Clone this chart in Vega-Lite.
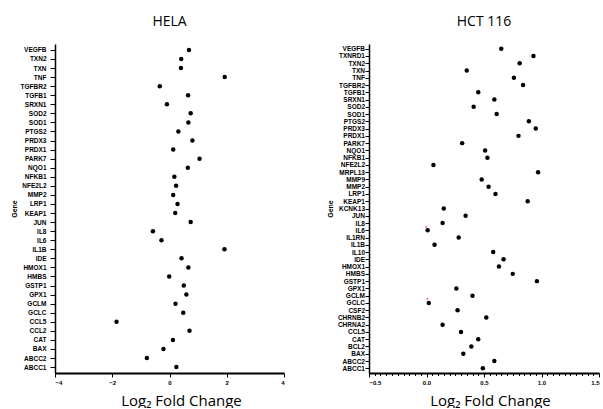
{
  "$schema": "https://vega.github.io/schema/vega-lite/v6.json",
  "padding": {"left": 10, "top": 15, "right": 0, "bottom": 0},
  "bounds": "flush",
  "spacing": 85,
  "background": "white",
  "config": {
    "view": {"stroke": null},
    "font": "Liberation Sans",
    "axis": {
      "domainColor": "black",
      "domainWidth": 1.5,
      "tickColor": "black",
      "tickWidth": 1,
      "labelColor": "black",
      "labelFont": "Liberation Sans",
      "labelFontWeight": "bold",
      "labelFontSize": 6.5,
      "grid": false,
      "titleColor": "black"
    },
    "axisX": {"domain": true, "domainColor": "black", "domainWidth": 2},
    "title": {"font": "Open Sans", "fontSize": 14, "fontWeight": "normal", "color": "black", "anchor": "middle", "offset": 15}
  },
  "datasets": {
    "hela": [
      {"gene": "VEGFB", "lfc": 0.68},
      {"gene": "TXN2", "lfc": 0.41},
      {"gene": "TXN", "lfc": 0.40},
      {"gene": "TNF", "lfc": 1.93},
      {"gene": "TGFBR2", "lfc": -0.34},
      {"gene": "TGFB1", "lfc": 0.65},
      {"gene": "SRXN1", "lfc": -0.09},
      {"gene": "SOD2", "lfc": 0.74},
      {"gene": "SOD1", "lfc": 0.66},
      {"gene": "PTGS2", "lfc": 0.31},
      {"gene": "PRDX3", "lfc": 0.80},
      {"gene": "PRDX1", "lfc": 0.13},
      {"gene": "PARK7", "lfc": 1.05},
      {"gene": "NQO1", "lfc": 0.64},
      {"gene": "NFKB1", "lfc": 0.17},
      {"gene": "NFE2L2", "lfc": 0.23},
      {"gene": "MMP2", "lfc": 0.13},
      {"gene": "LRP1", "lfc": 0.28},
      {"gene": "KEAP1", "lfc": 0.20},
      {"gene": "JUN", "lfc": 0.74},
      {"gene": "IL8", "lfc": -0.58},
      {"gene": "IL6", "lfc": -0.28},
      {"gene": "IL1B", "lfc": 1.92},
      {"gene": "IDE", "lfc": 0.42},
      {"gene": "HMOX1", "lfc": 0.66},
      {"gene": "HMBS", "lfc": -0.01},
      {"gene": "GSTP1", "lfc": 0.50},
      {"gene": "GPX1", "lfc": 0.59},
      {"gene": "GCLM", "lfc": 0.21},
      {"gene": "GCLC", "lfc": 0.48},
      {"gene": "CCL5", "lfc": -1.85},
      {"gene": "CCL2", "lfc": 0.70},
      {"gene": "CAT", "lfc": 0.12},
      {"gene": "BAX", "lfc": -0.21},
      {"gene": "ABCC2", "lfc": -0.79},
      {"gene": "ABCC1", "lfc": 0.24}
    ],
    "hct": [
      {"gene": "VEGFB", "lfc": 0.65, "sig": false},
      {"gene": "TXNRD1", "lfc": 0.93, "sig": false},
      {"gene": "TXN2", "lfc": 0.81, "sig": false},
      {"gene": "TXN", "lfc": 0.35, "sig": false},
      {"gene": "TNF", "lfc": 0.76, "sig": false},
      {"gene": "TGFBR2", "lfc": 0.84, "sig": false},
      {"gene": "TGFB1", "lfc": 0.45, "sig": false},
      {"gene": "SRXN1", "lfc": 0.59, "sig": false},
      {"gene": "SOD2", "lfc": 0.41, "sig": false},
      {"gene": "SOD1", "lfc": 0.61, "sig": false},
      {"gene": "PTGS2", "lfc": 0.89, "sig": false},
      {"gene": "PRDX3", "lfc": 0.95, "sig": false},
      {"gene": "PRDX1", "lfc": 0.80, "sig": false},
      {"gene": "PARK7", "lfc": 0.31, "sig": false},
      {"gene": "NQO1", "lfc": 0.51, "sig": false},
      {"gene": "NFKB1", "lfc": 0.53, "sig": false},
      {"gene": "NFE2L2", "lfc": 0.06, "sig": false},
      {"gene": "MRPL13", "lfc": 0.97, "sig": false},
      {"gene": "MMP9", "lfc": 0.48, "sig": false},
      {"gene": "MMP2", "lfc": 0.54, "sig": false},
      {"gene": "LRP1", "lfc": 0.60, "sig": false},
      {"gene": "KEAP1", "lfc": 0.88, "sig": false},
      {"gene": "KCNK13", "lfc": 0.15, "sig": false},
      {"gene": "JUN", "lfc": 0.34, "sig": false},
      {"gene": "IL8", "lfc": 0.14, "sig": false},
      {"gene": "IL6", "lfc": 0.01, "sig": true},
      {"gene": "IL1RN", "lfc": 0.28, "sig": false},
      {"gene": "IL1B", "lfc": 0.07, "sig": false},
      {"gene": "IL10", "lfc": 0.58, "sig": false},
      {"gene": "IDE", "lfc": 0.67, "sig": false},
      {"gene": "HMOX1", "lfc": 0.63, "sig": false},
      {"gene": "HMBS", "lfc": 0.75, "sig": false},
      {"gene": "GSTP1", "lfc": 0.96, "sig": false},
      {"gene": "GPX1", "lfc": 0.26, "sig": false},
      {"gene": "GCLM", "lfc": 0.40, "sig": false},
      {"gene": "GCLC", "lfc": 0.02, "sig": true},
      {"gene": "CSF2", "lfc": 0.27, "sig": false},
      {"gene": "CHRNB2", "lfc": 0.52, "sig": false},
      {"gene": "CHRNA2", "lfc": 0.14, "sig": false},
      {"gene": "CCL5", "lfc": 0.30, "sig": false},
      {"gene": "CAT", "lfc": 0.45, "sig": false},
      {"gene": "BCL2", "lfc": 0.39, "sig": false},
      {"gene": "BAX", "lfc": 0.32, "sig": false},
      {"gene": "ABCC2", "lfc": 0.59, "sig": false},
      {"gene": "ABCC1", "lfc": 0.49, "sig": false}
    ]
  },
  "hconcat": [
    {
      "width": 229,
      "height": 329,
      "title": {"text": "HELA"},
      "encoding": {
        "x": {
          "field": "lfc", "type": "quantitative",
          "scale": {"domain": [-4, 4], "nice": false, "zero": false},
          "axis": {
            "values": [-4, -2, 0, 2, 4],
            "format": "d",
            "tickSize": 4,
            "labelPadding": 2,
            "labelFontSize": 6,
            "title": "Log₂ Fold Change",
            "titleFont": "Open Sans",
            "titleFontSize": 15,
            "titleFontWeight": "normal",
            "titlePadding": 8,
            "titleX": 126
          }
        }
      },
      "layer": [
        {
          "data": {"values": [{"ref": 0}]},
          "mark": {"type": "rule", "strokeDash": [1, 1], "color": "#222", "strokeWidth": 0.9},
          "encoding": {"x": {"datum": 0}, "y": {"value": 0}, "y2": {"value": 329}}
        },
        {
          "data": {"name": "hela"},
          "mark": {"type": "point", "filled": true, "size": 20, "color": "black", "opacity": 1},
          "encoding": {
            "y": {
              "field": "gene", "type": "nominal", "sort": null,
              "scale": {"type": "point", "padding": 0.65},
              "axis": {
                "title": "Gene",
                "titleFontSize": 7,
                "titleFontWeight": "bold",
                "titlePadding": 3,
                "tickSize": 5,
                "labelPadding": 4
              }
            }
          }
        }
      ]
    },
    {
      "width": 230,
      "height": 329,
      "title": {"text": "HCT 116"},
      "encoding": {
        "x": {
          "field": "lfc", "type": "quantitative",
          "scale": {"domain": [-0.5, 1.5], "nice": false, "zero": false},
          "axis": {
            "values": [-0.5, -0.45, -0.4, -0.35, -0.3, -0.25, -0.2, -0.15, -0.1, -0.05, 0, 0.05, 0.1, 0.15, 0.2, 0.25, 0.3, 0.35, 0.4, 0.45, 0.5, 0.55, 0.6, 0.65, 0.7, 0.75, 0.8, 0.85, 0.9, 0.95, 1, 1.05, 1.1, 1.15, 1.2, 1.25, 1.3, 1.35, 1.4, 1.45, 1.5],
            "labelExpr": "abs(datum.value*2 - round(datum.value*2)) < 0.001 ? format(datum.value, '.1f') : ''",
            "labelOverlap": false,
            "tickSize": {"condition": {"test": "abs(datum.value*2 - round(datum.value*2)) < 0.001", "value": 4}, "value": 2.5},
            "labelPadding": 2,
            "labelFontSize": 6,
            "title": "Log₂ Fold Change",
            "titleFont": "Open Sans",
            "titleFontSize": 15,
            "titleFontWeight": "normal",
            "titlePadding": 8,
            "titleX": 121
          }
        }
      },
      "layer": [
        {
          "data": {"values": [{"ref": 0.5}]},
          "mark": {"type": "rule", "strokeDash": [1, 1], "color": "#222", "strokeWidth": 0.9},
          "encoding": {"x": {"datum": 0.5}, "y": {"value": 0}, "y2": {"value": 329}}
        },
        {
          "data": {"name": "hct"},
          "mark": {"type": "point", "filled": true, "size": 20, "color": "black", "opacity": 1},
          "encoding": {
            "y": {
              "field": "gene", "type": "nominal", "sort": null,
              "scale": {"type": "point", "padding": 0.65},
              "axis": {
                "title": "Gene",
                "titleFontSize": 7,
                "titleFontWeight": "bold",
                "titlePadding": 4,
                "tickSize": 4,
                "labelPadding": 0.5
              }
            }
          }
        },
        {
          "data": {"name": "hct"},
          "transform": [{"filter": "datum.sig"}],
          "mark": {"type": "text", "text": "*", "color": "red", "fontSize": 6, "dy": -2.5, "dx": -1.5},
          "encoding": {
            "y": {"field": "gene", "type": "nominal", "sort": null}
          }
        }
      ]
    }
  ]
}
